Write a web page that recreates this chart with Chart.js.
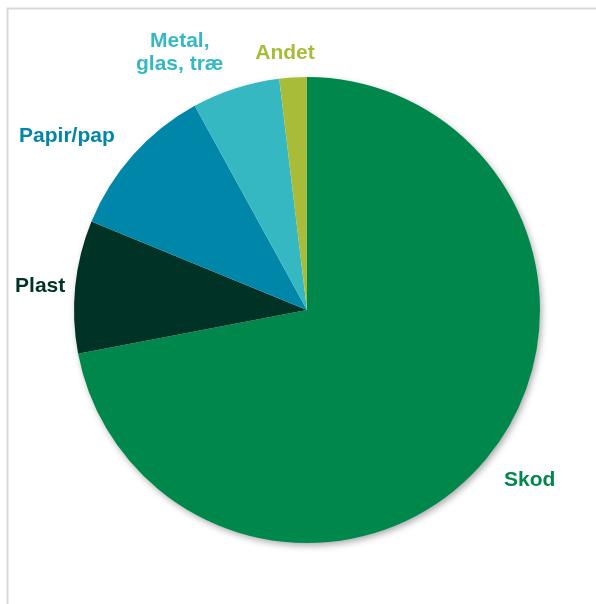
<!DOCTYPE html>
<html>
<head>
<meta charset="utf-8">
<script src="https://cdn.jsdelivr.net/npm/chart.js@4"></script>
<style>
  html, body { margin: 0; padding: 0; background: #fff; }
  #wrap { position: relative; width: 596px; height: 604px; }
</style>
</head>
<body>
<div id="wrap"><canvas id="chart" width="596" height="604"></canvas></div>
<script>
const categories = ["Skod", "Plast", "Papir/pap", ["Metal,", "glas, træ"], "Andet"];
const shares = [72.0, 9.2, 10.8, 6.1, 1.9];
const colors = ["#00874B", "#003326", "#0086A8", "#36B8C3", "#A9BC3A"];

// label placement: distance from centre (px) and angle shift (deg) from slice middle
const labelDist = [280, 268, 297, 288, 259];
const labelShift = [-2.3, -0.4, -5.7, -8.4, -1.45];

const framePlugin = {
    id: 'frame',
    beforeDraw(chart) {
        const ctx = chart.ctx;
        ctx.save();
        ctx.strokeStyle = '#d9d9d9';
        ctx.lineWidth = 2;
        ctx.beginPath();
        ctx.moveTo(7.5, chart.height);
        ctx.lineTo(7.5, 8.5);
        ctx.lineTo(chart.width, 8.5);
        ctx.stroke();
        ctx.restore();
    }
};

const shadowPlugin = {
    id: 'pieShadow',
    beforeDatasetsDraw(chart) {
        const arc = chart.getDatasetMeta(0).data[0];
        if (!arc) return;
        const ctx = chart.ctx;
        ctx.save();
        ctx.shadowColor = 'rgba(0,0,0,0.35)';
        ctx.shadowBlur = 7;
        ctx.shadowOffsetX = 2;
        ctx.shadowOffsetY = 3;
        ctx.fillStyle = '#ffffff';
        ctx.beginPath();
        ctx.arc(arc.x, arc.y, arc.outerRadius - 0.5, 0, Math.PI * 2);
        ctx.fill();
        ctx.restore();
    }
};

const labelPlugin = {
    id: 'sliceLabels',
    afterDatasetsDraw(chart) {
        const ctx = chart.ctx;
        const meta = chart.getDatasetMeta(0);
        ctx.save();
        ctx.font = 'bold 21px "Liberation Sans", Arial, sans-serif';
        ctx.textAlign = 'center';
        ctx.textBaseline = 'middle';
        meta.data.forEach((arc, i) => {
            const a = (arc.startAngle + arc.endAngle) / 2 + labelShift[i] * Math.PI / 180;
            const x = arc.x + Math.cos(a) * labelDist[i];
            const y = arc.y + Math.sin(a) * labelDist[i];
            const lines = Array.isArray(categories[i]) ? categories[i] : [categories[i]];
            const lh = 23;
            ctx.fillStyle = colors[i];
            lines.forEach((t, j) => {
                ctx.fillText(t, x, y + 1 + (j - (lines.length - 1) / 2) * lh);
            });
        });
        ctx.restore();
    }
};

new Chart(document.getElementById('chart'), {
    type: 'pie',
    data: {
        labels: categories,
        datasets: [{
            data: shares,
            backgroundColor: colors,
            borderWidth: 0
        }]
    },
    options: {
        responsive: false,
        animation: false,
        layout: { padding: { left: 74, right: 56, top: 77, bottom: 61 } },
        plugins: {
            legend: { display: false },
            tooltip: { enabled: false }
        }
    },
    plugins: [framePlugin, shadowPlugin, labelPlugin]
});
</script>
</body>
</html>
